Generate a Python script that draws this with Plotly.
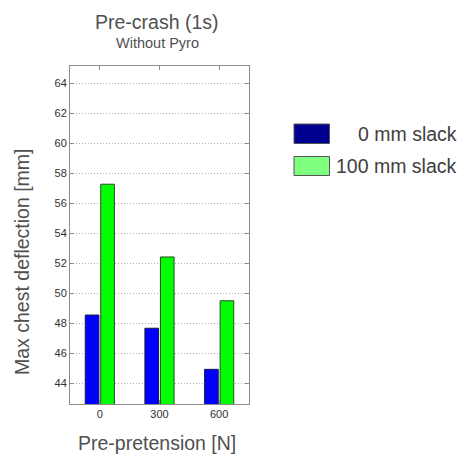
import plotly.graph_objects as go

categories = ["0", "300", "600"]
slack0 = [48.55, 47.67, 44.93]
slack100 = [57.27, 52.42, 49.5]
series_names = ["0 mm slack", "100 mm slack"]
y_ticks = [44, 46, 48, 50, 52, 54, 56, 58, 60, 62, 64]

FONT = "Liberation Sans, Arial, sans-serif"
W, H = 463, 454
L, R, T, B = 70, 214, 66, 50

fig = go.Figure()
fig.add_trace(go.Bar(x=categories, y=slack0, name=series_names[0],
                     marker=dict(color="#0000ff", line=dict(color="#1a1a4a", width=1)),
                     showlegend=False))
fig.add_trace(go.Bar(x=categories, y=slack100, name=series_names[1],
                     marker=dict(color="#00ff00", line=dict(color="#2a4a2a", width=1)),
                     showlegend=False))

def paper_x(px):
    return (px - L) / (W - L - R)
def paper_y(py):
    return (H - B - py) / (H - T - B)

# custom legend
legend_colors = ["#000090", "#80ff80"]
legend_rows = [(124, 143.5), (156.5, 175.5)]
for (y0, y1), col, name in zip(legend_rows, legend_colors, series_names):
    fig.add_shape(type="rect", xref="paper", yref="paper",
                  x0=paper_x(294), x1=paper_x(329.5), y0=paper_y(y1), y1=paper_y(y0),
                  fillcolor=col, line=dict(color="#555555", width=1))
    fig.add_annotation(xref="paper", yref="paper", x=paper_x(459), y=paper_y((y0 + y1) / 2),
                       text=name, showarrow=False, xanchor="right", yanchor="middle",
                       font=dict(family=FONT, size=19.5, color="#404040"))

# titles
fig.add_annotation(xref="paper", yref="paper", x=paper_x(157), y=paper_y(22),
                   text="Pre-crash (1s)", showarrow=False, xanchor="center", yanchor="middle",
                   font=dict(family=FONT, size=19.5, color="#505050"))
fig.add_annotation(xref="paper", yref="paper", x=paper_x(157), y=paper_y(43),
                   text="Without Pyro", showarrow=False, xanchor="center", yanchor="middle",
                   font=dict(family=FONT, size=14.5, color="#505050"))
fig.add_annotation(xref="paper", yref="paper", x=paper_x(22), y=paper_y(262),
                   text="Max chest deflection [mm]", showarrow=False, textangle=-90,
                   xanchor="center", yanchor="middle",
                   font=dict(family=FONT, size=19.5, color="#505050"))
fig.add_annotation(xref="paper", yref="paper", x=paper_x(157), y=paper_y(443),
                   text="Pre-pretension [N]", showarrow=False, xanchor="center", yanchor="middle",
                   font=dict(family=FONT, size=19.5, color="#505050"))

fig.update_layout(
    width=W, height=H,
    margin=dict(l=L, r=R, t=T, b=B),
    paper_bgcolor="white", plot_bgcolor="white",
    barmode="group", bargap=0.48, bargroupgap=0.12,
    font=dict(family=FONT, size=11, color="#303030"),
)
fig.update_xaxes(type="category", range=[-0.5, 2.5],
                 showline=True, linecolor="#8c8c8c", linewidth=1, mirror="ticks",
                 ticks="inside", ticklen=4, tickcolor="#8c8c8c",
                 showgrid=False, tickfont=dict(size=11, color="#303030"))
fig.update_yaxes(range=[42.62, 65.15], tickvals=y_ticks,
                 showline=True, linecolor="#8c8c8c", linewidth=1, mirror="ticks",
                 ticks="inside", ticklen=4, tickcolor="#8c8c8c",
                 showgrid=True, gridcolor="#b0b0b0", griddash="1px,2px", gridwidth=1,
                 zeroline=False, tickfont=dict(size=11, color="#303030"))

fig.write_html("out.html", config={"displayModeBar": False},
               post_script="document.body.style.margin='0';document.body.style.padding='0';")
